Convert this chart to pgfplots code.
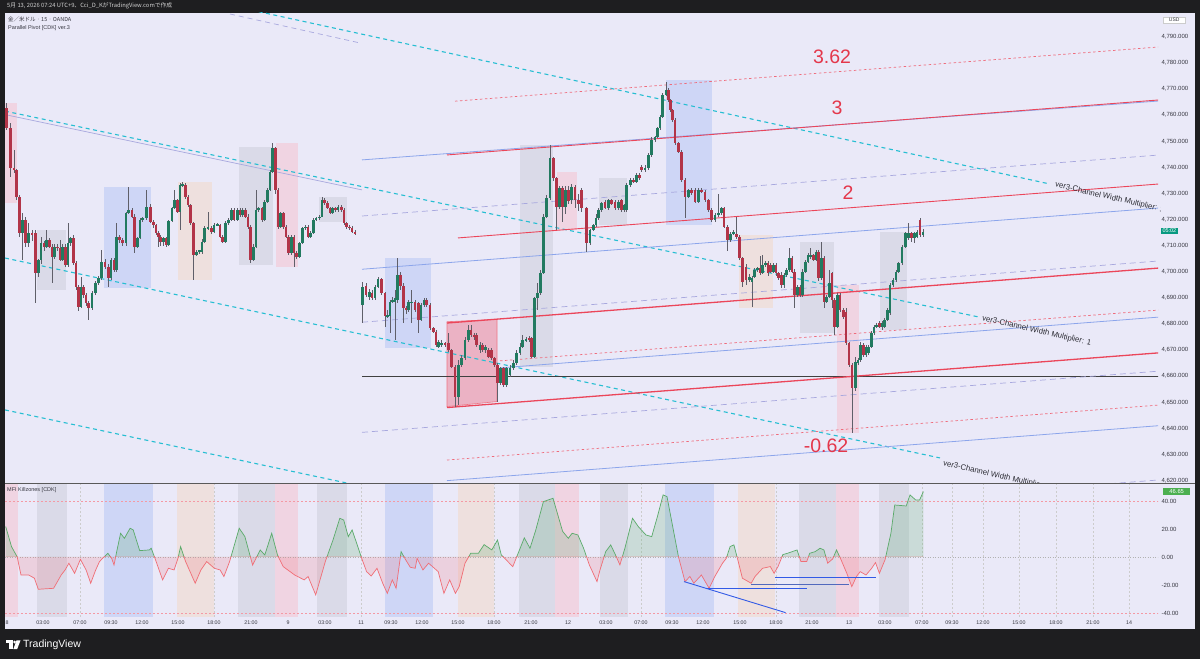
\documentclass[border=0pt]{standalone}
\usepackage{fontspec}
\setmainfont{Liberation Sans}
\newfontfamily\cjk{Noto Sans CJK JP}
\usepackage{pgfplots}
\usepackage{pgfplotstable}
\pgfplotsset{compat=1.18}

\definecolor{frame}{RGB}{30,30,32}
\definecolor{bg}{RGB}{234,233,248}
\definecolor{upc}{RGB}{34,122,96}
\definecolor{dnc}{RGB}{178,52,72}
\definecolor{wick}{RGB}{95,95,105}
\definecolor{cyanl}{RGB}{38,190,210}
\definecolor{lav}{RGB}{168,168,222}
\definecolor{bluel}{RGB}{140,165,235}
\definecolor{redl}{RGB}{235,70,90}
\definecolor{boxgray}{RGB}{218,218,232}
\definecolor{boxblue}{RGB}{206,214,246}
\definecolor{boxpink}{RGB}{240,212,226}
\definecolor{boxorange}{RGB}{238,224,222}
\definecolor{boxred}{RGB}{235,178,196}
\definecolor{mfig}{RGB}{90,170,105}
\definecolor{mfir}{RGB}{240,110,118}
\definecolor{txt}{RGB}{55,55,65}
\definecolor{labred}{RGB}{228,55,75}
\definecolor{teal}{RGB}{8,153,129}
\definecolor{grn}{RGB}{76,175,80}
\definecolor{divb}{RGB}{50,90,230}

\pgfplotstableread{
x o h l c
22.7 4714.8 4722.4 4704.6 4719.9
28.7 4711.0 4718.6 4709.7 4714.8
38.3 4699.5 4705.0 4698.2 4704.6
41.0 4704.6 4713.5 4703.0 4711.0
46.7 4709.7 4716.1 4709.0 4712.2
54.7 4705.8 4710.5 4705.0 4709.7
62.7 4704.6 4710.5 4704.0 4709.7
68.0 4702.7 4718.6 4702.0 4711.0
70.7 4711.0 4713.5 4710.0 4712.9
81.0 4686.7 4698.2 4686.0 4694.3
92.0 4686.0 4692.5 4685.5 4691.8
95.7 4691.8 4696.5 4691.0 4695.6
98.3 4695.6 4698.5 4695.0 4697.5
101.7 4697.5 4708.4 4697.0 4703.9
111.0 4697.5 4705.2 4697.0 4704.6
116.7 4700.7 4718.6 4700.0 4713.5
126.0 4711.0 4723.0 4710.0 4722.4
128.7 4722.4 4732.7 4722.0 4723.7
137.3 4709.7 4713.5 4709.0 4712.9
140.0 4712.9 4720.5 4712.5 4719.9
142.7 4719.9 4721.0 4719.0 4720.5
146.7 4720.5 4731.4 4720.0 4725.0
163.3 4711.6 4713.5 4710.0 4712.9
168.7 4710.3 4720.0 4710.0 4719.3
172.0 4719.3 4725.0 4719.0 4724.4
174.7 4724.4 4731.4 4724.0 4727.6
180.0 4723.1 4734.0 4716.0 4733.3
182.7 4733.3 4734.6 4732.7 4733.6
196.7 4706.5 4708.5 4706.0 4707.8
199.3 4707.8 4708.5 4707.0 4708.2
202.0 4707.8 4712.5 4707.0 4711.6
204.7 4711.6 4717.5 4711.0 4716.7
208.0 4716.7 4723.1 4716.0 4717.0
214.0 4715.4 4718.6 4715.0 4718.0
217.3 4718.0 4718.6 4717.5 4718.3
225.3 4711.6 4719.5 4711.0 4718.6
228.7 4718.6 4720.5 4718.0 4719.9
231.3 4719.9 4724.5 4719.5 4723.7
237.3 4719.9 4724.5 4719.5 4723.7
242.7 4721.8 4724.5 4721.0 4723.7
253.3 4704.6 4710.5 4704.0 4709.7
256.0 4709.7 4731.4 4709.0 4723.7
258.7 4723.7 4725.0 4723.0 4724.4
264.7 4719.9 4727.5 4719.5 4726.9
267.3 4726.9 4732.0 4726.5 4731.4
269.8 4731.4 4739.0 4731.0 4738.4
272.3 4738.4 4749.3 4738.0 4747.4
280.7 4717.3 4723.0 4717.0 4722.4
291.3 4707.1 4714.0 4706.5 4713.5
299.3 4705.8 4711.6 4705.5 4711.0
302.7 4711.0 4717.3 4710.5 4716.7
305.3 4716.7 4718.0 4716.0 4717.3
310.7 4713.5 4715.5 4713.0 4714.8
313.3 4714.8 4720.5 4714.5 4719.9
316.0 4719.9 4721.0 4719.5 4720.5
319.3 4720.5 4721.8 4720.0 4721.2
322.0 4721.2 4728.5 4721.0 4727.6
332.7 4722.4 4725.0 4722.0 4724.4
338.0 4723.7 4725.5 4723.0 4725.0
362.7 4687.3 4696.3 4680.3 4694.4
369.3 4690.5 4693.3 4689.2 4692.4
375.0 4689.9 4695.0 4689.2 4694.4
378.0 4694.4 4698.2 4693.7 4697.2
387.7 4682.9 4685.4 4682.2 4683.5
390.0 4682.9 4689.2 4676.5 4688.6
392.7 4688.6 4690.5 4688.0 4689.2
395.0 4688.6 4693.1 4673.9 4689.9
397.7 4689.2 4705.2 4688.0 4698.8
408.7 4685.4 4689.2 4684.8 4688.6
411.7 4688.0 4693.1 4680.3 4688.6
421.0 4681.6 4688.0 4681.0 4687.3
424.0 4687.3 4689.9 4686.7 4689.2
438.7 4671.4 4673.9 4670.7 4673.3
441.7 4672.0 4673.7 4671.4 4672.9
458.3 4652.2 4666.3 4649.0 4664.3
461.7 4664.3 4668.2 4663.7 4666.9
465.0 4666.9 4675.2 4666.3 4673.9
468.3 4673.9 4679.7 4673.3 4677.7
480.0 4670.1 4673.3 4668.8 4672.0
485.7 4670.1 4672.0 4668.8 4671.4
500.7 4657.3 4663.7 4656.7 4663.1
506.7 4656.7 4663.7 4656.0 4663.1
510.0 4660.5 4664.3 4659.9 4663.1
513.3 4663.1 4666.3 4662.4 4665.0
516.7 4665.0 4670.1 4664.3 4668.8
520.0 4668.8 4672.6 4668.2 4671.4
522.7 4671.4 4675.8 4670.7 4673.9
526.0 4673.7 4675.2 4673.1 4674.2
534.5 4667.5 4690.5 4666.9 4689.9
537.5 4689.9 4695.6 4685.4 4691.8
540.5 4691.8 4700.7 4691.2 4699.5
543.7 4699.5 4722.0 4699.0 4721.1
546.7 4721.1 4729.4 4720.5 4728.2
550.0 4728.2 4748.6 4727.5 4743.5
559.3 4725.0 4733.0 4724.0 4732.0
565.3 4725.0 4733.0 4722.0 4731.5
571.7 4727.5 4733.5 4726.0 4732.6
590.0 4710.9 4716.5 4710.3 4716.0
593.3 4716.0 4718.5 4715.5 4717.9
596.0 4717.9 4722.0 4717.3 4720.5
598.7 4720.5 4724.3 4720.0 4723.7
601.7 4723.7 4726.8 4723.1 4726.2
608.3 4724.3 4728.0 4723.7 4727.5
618.3 4724.3 4727.5 4723.7 4726.9
624.0 4723.7 4726.2 4723.1 4725.6
626.7 4723.7 4734.0 4723.1 4733.3
630.7 4733.3 4736.0 4732.7 4735.2
636.7 4734.6 4737.7 4734.0 4737.1
645.0 4739.0 4741.0 4738.4 4739.7
648.3 4739.7 4745.4 4739.0 4744.8
651.7 4744.8 4751.5 4744.2 4750.5
655.0 4750.5 4752.0 4749.9 4751.8
657.3 4751.8 4755.6 4751.2 4755.0
660.0 4755.0 4760.1 4754.4 4759.5
662.7 4759.5 4768.4 4758.9 4767.8
666.0 4767.8 4772.9 4767.2 4769.7
688.3 4728.8 4731.9 4728.2 4731.4
698.3 4726.9 4732.0 4726.3 4731.4
715.0 4719.9 4722.5 4719.3 4721.8
718.3 4721.8 4730.0 4721.2 4722.4
721.7 4722.4 4724.9 4721.8 4724.3
730.7 4712.2 4715.3 4711.6 4714.7
733.3 4714.7 4716.0 4714.1 4715.4
749.3 4696.9 4699.0 4696.0 4698.2
752.0 4696.2 4698.5 4686.7 4697.5
754.7 4698.2 4701.5 4697.5 4700.7
757.3 4700.7 4702.0 4700.0 4701.4
762.7 4699.4 4706.5 4699.0 4702.6
765.3 4702.6 4704.0 4702.0 4703.3
773.3 4700.1 4703.5 4699.5 4702.6
784.0 4694.9 4699.5 4694.0 4698.8
786.7 4698.8 4701.5 4698.0 4700.7
789.3 4700.7 4709.0 4700.0 4705.2
797.3 4691.1 4695.0 4690.5 4694.3
802.7 4691.1 4701.0 4690.5 4700.1
805.3 4700.1 4704.5 4699.5 4703.9
808.0 4703.9 4707.1 4703.5 4706.5
810.7 4705.8 4709.0 4705.0 4706.5
816.0 4704.6 4708.3 4704.0 4707.7
821.3 4697.5 4711.6 4697.0 4705.2
826.7 4688.6 4691.2 4688.0 4690.5
829.3 4690.5 4700.7 4690.0 4695.6
837.3 4679.0 4692.0 4678.4 4691.2
855.3 4655.4 4667.5 4654.3 4665.6
858.0 4665.0 4667.0 4664.3 4666.3
860.7 4666.3 4673.3 4665.6 4672.0
866.0 4668.2 4672.0 4667.5 4671.4
868.7 4668.8 4672.0 4668.2 4671.4
871.3 4671.4 4677.2 4671.0 4676.5
874.0 4676.5 4679.7 4676.0 4679.0
876.7 4679.0 4680.3 4678.4 4679.7
882.0 4679.0 4681.0 4677.7 4680.3
884.7 4679.0 4682.2 4678.4 4681.6
887.3 4681.6 4686.0 4681.0 4685.4
890.0 4684.1 4695.6 4683.5 4694.9
893.0 4694.9 4697.5 4694.3 4696.9
896.0 4696.9 4700.7 4696.2 4700.1
898.7 4700.1 4703.9 4699.5 4703.3
902.0 4703.3 4710.3 4702.6 4709.7
905.3 4709.7 4715.4 4709.0 4714.8
908.7 4712.9 4718.6 4712.3 4714.8
914.3 4712.9 4715.4 4711.0 4714.8
917.0 4713.5 4716.0 4713.0 4715.4
923.0 4714.1 4716.5 4713.5 4715.4
}\upc

\pgfplotstableread{
x o h l c
6.7 4762.7 4764.6 4754.4 4755.0
10.7 4755.0 4756.9 4736.5 4739.7
14.0 4739.7 4746.7 4737.8 4739.0
16.7 4739.0 4739.5 4727.6 4728.8
19.3 4728.8 4729.5 4713.5 4714.8
25.3 4719.9 4721.2 4709.7 4711.0
32.0 4714.8 4716.0 4712.0 4714.0
35.3 4714.8 4716.0 4688.0 4699.5
44.0 4711.0 4712.0 4708.0 4709.7
49.3 4712.2 4713.0 4709.0 4709.7
52.0 4709.7 4710.5 4695.6 4705.8
57.3 4709.7 4710.5 4708.0 4709.0
60.0 4709.0 4712.2 4704.0 4704.6
65.3 4709.7 4710.5 4702.0 4702.7
73.3 4712.9 4714.0 4702.7 4703.3
76.0 4703.3 4704.0 4693.0 4694.3
78.6 4694.3 4695.0 4685.0 4686.7
83.3 4694.3 4695.0 4690.0 4691.2
86.0 4691.2 4692.0 4687.0 4688.0
88.7 4688.0 4689.0 4681.6 4686.0
105.0 4703.9 4705.0 4701.0 4702.0
108.3 4702.0 4703.0 4694.3 4697.5
114.0 4704.6 4705.5 4700.0 4700.7
119.3 4713.5 4714.0 4711.0 4712.2
122.7 4712.2 4713.0 4710.0 4711.0
132.0 4723.7 4724.5 4720.5 4721.2
134.7 4721.2 4722.0 4707.1 4709.7
150.7 4725.0 4726.0 4718.6 4719.3
153.3 4719.3 4720.0 4717.0 4718.0
155.8 4718.0 4718.5 4714.0 4714.8
158.3 4714.8 4715.5 4709.7 4713.5
160.7 4713.5 4714.0 4710.0 4711.6
166.0 4712.9 4713.5 4709.5 4710.3
177.3 4727.6 4728.0 4722.5 4723.1
185.3 4733.3 4734.0 4728.0 4728.8
188.0 4728.8 4729.5 4725.0 4725.6
190.7 4725.6 4726.0 4718.0 4718.6
193.3 4718.6 4719.0 4696.9 4706.5
211.3 4716.7 4717.5 4714.5 4715.4
220.0 4718.0 4718.5 4713.0 4713.5
222.7 4713.5 4714.0 4711.0 4711.6
234.0 4723.7 4724.5 4719.5 4719.9
240.0 4723.7 4724.5 4721.0 4721.8
245.3 4723.7 4724.5 4720.5 4721.2
248.0 4721.2 4722.0 4716.5 4717.3
250.7 4717.3 4718.0 4703.3 4704.6
262.0 4724.4 4725.0 4719.0 4719.9
275.3 4747.4 4748.0 4730.0 4731.4
278.0 4731.4 4732.0 4716.5 4717.3
283.3 4722.4 4723.0 4716.5 4717.3
286.0 4717.3 4718.0 4713.0 4713.5
288.7 4713.5 4714.0 4706.5 4707.1
294.0 4713.5 4714.0 4702.0 4707.1
296.7 4707.1 4708.0 4705.0 4705.8
308.0 4717.3 4718.0 4713.0 4713.5
324.7 4727.6 4728.5 4725.5 4726.3
327.3 4726.3 4727.0 4724.0 4724.4
330.0 4724.4 4725.0 4722.0 4722.4
335.3 4724.4 4725.0 4723.0 4723.7
341.3 4725.0 4725.5 4723.0 4723.7
344.0 4723.7 4724.5 4718.0 4718.6
346.7 4718.6 4719.0 4716.5 4717.3
349.3 4717.3 4718.0 4716.0 4716.7
352.0 4716.7 4717.5 4714.8 4715.4
355.0 4715.4 4716.0 4714.0 4714.5
366.0 4694.4 4695.6 4690.5 4691.2
372.0 4691.8 4693.1 4689.2 4689.9
381.7 4697.2 4697.5 4691.2 4691.8
385.0 4691.8 4692.4 4679.0 4682.9
400.7 4698.8 4700.1 4693.1 4694.4
403.3 4694.4 4695.6 4680.3 4686.1
406.0 4686.1 4687.0 4684.0 4685.7
415.0 4688.6 4689.2 4684.8 4685.4
418.3 4688.0 4688.6 4676.5 4681.6
426.7 4689.2 4689.9 4686.7 4687.3
430.0 4687.3 4688.0 4677.7 4678.4
433.3 4678.4 4679.0 4676.5 4677.1
436.0 4677.1 4677.7 4671.4 4672.0
445.0 4672.6 4673.1 4671.4 4672.0
448.3 4672.6 4676.5 4669.4 4670.1
451.7 4670.1 4670.3 4663.1 4663.7
455.0 4663.7 4664.3 4648.4 4652.2
471.0 4677.7 4679.7 4675.2 4675.8
474.0 4675.8 4676.5 4673.9 4675.2
476.7 4675.8 4676.5 4671.4 4672.0
482.7 4672.0 4672.6 4669.4 4670.1
488.3 4670.1 4670.7 4666.9 4667.5
491.3 4670.1 4670.7 4666.3 4666.9
494.3 4666.9 4667.5 4663.7 4664.3
497.3 4664.3 4665.0 4650.3 4657.3
503.3 4663.1 4663.7 4656.0 4656.7
529.0 4674.6 4675.4 4673.3 4673.9
531.5 4674.6 4675.2 4666.9 4667.5
553.3 4743.5 4744.0 4735.0 4735.8
556.3 4735.8 4736.5 4716.0 4725.0
562.3 4732.0 4733.0 4719.0 4725.0
568.3 4731.5 4733.0 4726.0 4727.0
575.0 4732.6 4733.3 4724.5 4727.5
578.3 4727.5 4730.0 4723.5 4726.2
581.7 4731.4 4732.0 4722.8 4724.3
586.7 4724.3 4725.0 4707.7 4710.9
605.0 4726.9 4727.5 4724.0 4724.3
611.7 4727.5 4728.0 4725.6 4726.2
615.0 4726.9 4727.5 4723.7 4724.3
621.7 4727.5 4728.0 4723.1 4723.7
633.7 4735.2 4735.8 4734.0 4734.6
639.3 4737.1 4737.7 4735.2 4735.8
641.7 4740.3 4741.0 4738.4 4739.0
668.3 4769.7 4770.3 4765.2 4765.8
670.7 4765.8 4766.4 4761.4 4762.0
672.7 4762.0 4762.6 4757.6 4758.2
675.0 4758.2 4758.8 4748.6 4749.2
678.3 4749.2 4749.8 4745.4 4746.0
681.7 4746.0 4746.6 4734.6 4735.2
685.0 4735.2 4735.8 4720.5 4728.8
691.7 4731.4 4732.0 4729.6 4730.1
695.0 4731.4 4732.0 4726.3 4726.9
701.7 4731.4 4732.0 4730.2 4730.7
705.0 4730.7 4731.3 4726.9 4727.5
708.3 4727.5 4728.1 4723.1 4723.7
711.7 4723.7 4724.3 4719.3 4719.9
724.0 4724.3 4724.9 4716.7 4717.3
727.3 4717.3 4717.9 4708.0 4712.2
736.7 4714.7 4721.1 4712.7 4713.3
739.3 4713.3 4714.1 4704.6 4705.2
742.7 4705.2 4705.8 4694.3 4696.2
746.0 4702.0 4703.0 4695.0 4696.9
760.0 4701.4 4706.0 4698.8 4699.4
768.0 4703.3 4704.0 4698.5 4699.4
770.7 4702.6 4703.5 4699.5 4700.1
776.0 4702.6 4703.5 4698.5 4699.4
778.7 4699.4 4700.0 4697.0 4697.5
781.3 4698.8 4700.0 4694.0 4694.9
792.0 4705.2 4706.0 4699.5 4700.1
794.7 4700.1 4701.0 4686.0 4691.1
800.0 4694.3 4695.0 4690.5 4691.1
813.3 4706.5 4707.0 4704.0 4704.6
818.7 4707.7 4708.3 4696.5 4697.5
824.0 4705.2 4706.0 4686.0 4688.6
832.0 4699.5 4700.0 4686.0 4689.2
834.7 4689.2 4690.0 4675.8 4679.0
840.0 4691.2 4692.0 4684.8 4685.4
843.3 4685.4 4686.0 4682.0 4682.8
846.0 4684.8 4686.0 4672.0 4672.6
849.0 4672.6 4673.3 4663.7 4664.3
852.0 4664.3 4665.0 4638.1 4655.4
863.3 4672.0 4672.6 4667.5 4668.2
879.3 4680.3 4681.0 4678.4 4679.0
911.7 4714.8 4715.4 4711.6 4712.9
920.0 4719.9 4720.5 4713.5 4714.1
}\dnc

\pgfplotstableread{
x v
5.7 21.7
11.5 7.4
17.2 0.0
21.0 -12.9
28.7 -12.9
34.4 -15.2
38.3 -23.1
53.6 -22.4
61.2 -12.9
65.1 -9.3
68.9 -4.5
74.6 -11.7
80.4 -1.7
86.1 -9.3
90.7 -18.8
95.7 -9.3
99.5 -3.3
102.6 -1.0
107.9 2.6
111.7 -1.0
114.0 -5.8
116.7 3.8
120.6 16.9
124.4 13.3
130.1 20.5
133.2 19.3
139.7 4.5
149.3 5.0
151.2 6.2
155.0 -1.0
162.6 -16.4
168.4 -8.1
174.1 -9.3
178.0 -1.0
180.6 7.4
185.6 -3.3
195.2 -18.8
200.9 -9.3
206.7 -3.3
214.3 -8.1
220.1 -9.3
223.9 -14.0
229.6 -3.3
239.2 20.5
244.9 14.5
252.6 -5.8
260.2 5.0
264.8 1.4
271.7 16.9
277.5 1.4
283.2 -6.9
294.7 -12.9
304.2 -16.4
308.1 -14.0
315.7 -27.1
325.3 -3.3
333.0 12.1
339.8 27.6
343.7 26.4
348.3 14.5
352.1 19.3
357.8 7.4
361.7 -1.0
366.6 -10.5
371.2 -13.6
377.0 -8.1
382.7 -18.8
387.3 -26.0
392.3 -16.4
396.1 -22.4
401.1 3.8
405.7 -2.1
410.3 -7.4
415.2 -8.1
417.1 -1.0
422.9 -9.3
428.6 -4.5
432.5 -6.9
438.2 -10.5
443.9 -26.0
449.7 -16.4
455.4 -26.0
459.2 -21.2
465.0 -4.5
470.7 2.6
478.4 2.6
484.1 8.8
491.8 5.0
497.5 12.1
501.3 1.4
512.8 -6.9
524.3 13.6
530.0 6.2
535.8 19.3
543.4 39.5
553.0 41.9
562.6 18.3
568.3 13.3
572.1 16.9
577.9 15.7
583.6 6.2
589.4 -5.8
597.0 -17.6
600.0 -9.3
605.7 3.8
610.7 8.6
615.3 1.7
619.9 -5.7
624.9 6.2
632.5 27.6
638.3 21.7
645.9 15.7
651.7 14.5
657.4 28.8
663.1 44.3
667.0 43.1
672.7 21.7
678.5 0.0
685.0 -17.6
689.9 -14.0
693.8 -18.8
701.4 -12.9
709.1 -22.4
714.8 -14.0
722.5 -4.5
726.3 -1.0
730.1 7.4
733.9 8.6
737.8 -2.1
742.4 -15.2
751.2 -18.8
755.0 -14.0
762.6 -8.1
770.3 -6.9
774.1 -11.7
778.0 -6.9
782.9 1.7
787.5 2.6
797.1 5.0
800.9 -3.3
806.7 -3.3
809.7 2.6
815.1 3.8
820.1 6.2
823.9 5.0
827.7 -4.5
832.7 -1.4
836.5 5.0
841.1 -2.1
846.8 -11.7
851.8 -21.2
856.4 -14.0
860.2 -10.5
866.0 -12.9
871.7 -8.1
875.5 -4.0
879.4 -11.7
885.1 -1.9
890.9 16.9
894.7 37.1
906.2 36.4
910.0 44.3
915.7 40.7
919.6 40.7
923.4 46.7
}\mfi

\pgfplotsset{
  pane/.style={scale only axis, axis line style={draw=none}, major tick length=0pt,
    xmin=5, xmax=1158, clip=true,
    tick label style={font=\fontsize{6}{7}\selectfont, text=txt},
    /pgf/number format/assume math mode=true},
  sbox/.style={draw=none, fill=#1, forget plot},
  wickst/.style={draw=none, mark=none, forget plot, error bars/.cd, y dir=both, y explicit, error mark=none,
    error bar style={draw=wick, line width=0.6pt}},
  bodyst/.style={draw=none, mark=none, forget plot, error bars/.cd, y dir=both, y explicit, error mark=none,
    error bar style={draw=#1, line width=2.6pt}},
}

\begin{document}
\begin{tikzpicture}[x=1pt,y=1pt]
\useasboundingbox (0,0) rectangle (1200,659);
\fill[frame] (0,0) rectangle (1200,659);
\fill[bg] (5,30) rectangle (1195,646.3);

% ---------------- price pane ----------------
\begin{axis}[pane, at={(5pt,176pt)}, anchor=south west, width=1153pt, height=470.3pt,
  ymin=4619.1, ymax=4799.3, ytick={4620,4630,...,4790}, yticklabel pos=right,
  yticklabel style={/pgf/number format/.cd, fixed, fixed zerofill, precision=3, 1000 sep={,}},
  xtick=\empty]
% session boxes
\addplot[sbox=boxpink] coordinates {(5,4764.7) (17,4764.7) (17,4726.4) (5,4726.4)};
\addplot[sbox=boxgray] coordinates {(37,4716.05) (66,4716.05) (66,4693.07) (37,4693.07)};
\addplot[sbox=boxblue] coordinates {(104,4732.5) (151,4732.5) (151,4693.8) (104,4693.8)};
\addplot[sbox=boxorange] coordinates {(178,4734.4) (212,4734.4) (212,4696.9) (178,4696.9)};
\addplot[sbox=boxgray] coordinates {(239,4747.9) (273,4747.9) (273,4702.6) (239,4702.6)};
\addplot[sbox=boxpink] coordinates {(276,4749.4) (298,4749.4) (298,4701.9) (276,4701.9)};
\addplot[sbox=boxgray] coordinates {(319,4728.7) (347,4728.7) (347,4719.1) (319,4719.1)};
\addplot[sbox=boxblue] coordinates {(385,4705.3) (431,4705.3) (431,4670.8) (385,4670.8)};
\addplot[fill=boxred, draw=redl!75, line width=0.6pt, forget plot] coordinates {(447,4680.9) (497,4681.8) (497,4650.3) (447,4648.4) (447,4680.9)};
\addplot[sbox=boxgray] coordinates {(520,4748.6) (553,4748.6) (553,4663.6) (520,4663.6)};
\addplot[sbox=boxpink] coordinates {(557,4738.3) (577,4738.3) (577,4716.1) (557,4716.1)};
\addplot[sbox=boxgray] coordinates {(599,4736.0) (627,4736.0) (627,4718.0) (599,4718.0)};
\addplot[sbox=boxblue] coordinates {(666,4773.5) (712,4773.5) (712,4718.0) (666,4718.0)};
\addplot[sbox=boxorange] coordinates {(739,4714.1) (773,4714.1) (773,4686.2) (739,4686.2)};
\addplot[sbox=boxgray] coordinates {(800,4711.5) (834,4711.5) (834,4676.6) (800,4676.6)};
\addplot[sbox=boxpink] coordinates {(837,4695.0) (859,4695.0) (859,4638.3) (837,4638.3)};
\addplot[sbox=boxgray] coordinates {(880,4715.1) (907,4715.1) (907,4677.7) (880,4677.7)};

% descending channel lines
\addplot[lav, line width=0.7pt, dash pattern=on 5pt off 4pt, forget plot] coordinates {(230,4798.8) (360,4787.7)};
\addplot[lav, line width=0.7pt, forget plot] coordinates {(7,4760.1) (362,4731.4)};
\addplot[cyanl, line width=1.1pt, dash pattern=on 4pt off 3.5pt, forget plot] coordinates {(200,4804.6) (1047,4733.9)};
\addplot[cyanl, line width=1.1pt, dash pattern=on 4pt off 3.5pt, forget plot] coordinates {(5,4761.6) (980,4682.6)};
\addplot[cyanl, line width=1.1pt, dash pattern=on 4pt off 3.5pt, forget plot] coordinates {(5,4705.3) (940,4628.7)};
\addplot[cyanl, line width=1.1pt, dash pattern=on 4pt off 3.5pt, forget plot] coordinates {(5,4647.1) (360,4618.0)};

% rising parallel pivot lines
\addplot[redl!80, line width=0.7pt, dash pattern=on 2.5pt off 2.5pt, forget plot] coordinates {(455,4765.4) (1160,4786.2)};
\addplot[bluel, line width=0.8pt, forget plot] coordinates {(362,4742.9) (1160,4765.5)};
\addplot[redl, line width=0.9pt, forget plot] coordinates {(447,4744.8) (1160,4765.9)};
\addplot[lav, line width=0.7pt, dash pattern=on 6pt off 4pt, forget plot] coordinates {(362,4721.4) (1160,4744.8)};
\addplot[redl, line width=0.9pt, forget plot] coordinates {(458,4713.0) (1160,4733.7)};
\addplot[bluel, line width=0.8pt, forget plot] coordinates {(362,4701.0) (1160,4724.5)};
\addplot[lav, line width=0.7pt, dash pattern=on 6pt off 4pt, forget plot] coordinates {(362,4680.7) (1160,4704.2)};
\addplot[redl, line width=1.3pt, forget plot] coordinates {(447,4680.4) (1160,4701.5)};
\addplot[redl!80, line width=0.7pt, dash pattern=on 2.5pt off 2.5pt, forget plot] coordinates {(500,4665.9) (1160,4685.4)};
\addplot[bluel, line width=0.8pt, forget plot] coordinates {(500,4663.2) (1160,4682.7)};
\addplot[black!75, line width=0.8pt, forget plot] coordinates {(362,4660.1) (1160,4660.1)};
\addplot[redl, line width=1.3pt, forget plot] coordinates {(447,4648.0) (1160,4669.0)};
\addplot[lav, line width=0.7pt, dash pattern=on 6pt off 4pt, forget plot] coordinates {(362,4638.5) (1160,4662.0)};
\addplot[redl!80, line width=0.7pt, dash pattern=on 2.5pt off 2.5pt, forget plot] coordinates {(447,4627.9) (1160,4649.0)};
\addplot[bluel, line width=0.8pt, forget plot] coordinates {(447,4620.0) (1160,4641.1)};
\addplot[lav, line width=0.7pt, dash pattern=on 6pt off 4pt, forget plot] coordinates {(1000,4615.6) (1160,4620.3)};

% candles
\addplot[wickst] table[x=x, y expr={(\thisrow{h}+\thisrow{l})/2}, y error expr={(\thisrow{h}-\thisrow{l})/2}] {\upc};
\addplot[wickst] table[x=x, y expr={(\thisrow{h}+\thisrow{l})/2}, y error expr={(\thisrow{h}-\thisrow{l})/2}] {\dnc};
\addplot[bodyst=upc] table[x=x, y expr={(\thisrow{o}+\thisrow{c})/2}, y error expr={max(abs(\thisrow{c}-\thisrow{o})/2,0.25)}] {\upc};
\addplot[bodyst=dnc] table[x=x, y expr={(\thisrow{o}+\thisrow{c})/2}, y error expr={max(abs(\thisrow{c}-\thisrow{o})/2,0.25)}] {\dnc};

% level labels
\node[text=labred, font=\fontsize{19.5}{20}\selectfont] at (axis cs:832,4782.3) {3.62};
\node[text=labred, font=\fontsize{19.5}{20}\selectfont] at (axis cs:837,4762.8) {3};
\node[text=labred, font=\fontsize{19.5}{20}\selectfont] at (axis cs:848,4730.2) {2};
\node[text=labred, font=\fontsize{19.5}{20}\selectfont] at (axis cs:826,4633.3) {-0.62};
\coordinate (t1) at (axis cs:1055,4733.3);
\coordinate (t2) at (axis cs:982,4682.2);
\coordinate (t3) at (axis cs:943,4626.7);
\end{axis}

\begin{scope}
\clip (5,176) rectangle (1160,646.3);
\node[anchor=west, rotate=-13, inner sep=0pt, text=txt!80!black, font=\fontsize{7.8}{9}\selectfont] at (t1) {ver3-Channel Width Multiplier: 1};
\node[anchor=west, rotate=-13, inner sep=0pt, text=txt!80!black, font=\fontsize{7.8}{9}\selectfont] at (t2) {ver3-Channel Width Multiplier: 1};
\node[anchor=west, rotate=-13, inner sep=0pt, text=txt!80!black, font=\fontsize{7.8}{9}\selectfont] at (t3) {ver3-Channel Width Multiplier: 1};
\end{scope}

% ---------------- indicator pane ----------------
\begin{axis}[pane, at={(5pt,42pt)}, anchor=south west, width=1153pt, height=133pt,
  ymin=-42.9, ymax=52.1, ytick={-40,-20,0,20,40}, yticklabel pos=right,
  yticklabel style={/pgf/number format/.cd, fixed, fixed zerofill, precision=2},
  xtick={7,43,80,111,142,178,214,251,288,325,361,391,422,458,494,531,568,606,641,672,703,740,776,812,849,885,922,952,983,1019,1056,1093,1129},
  xticklabels={8,03:00,07:00,09:30,12:00,15:00,18:00,21:00,9,03:00,11,09:30,12:00,15:00,18:00,21:00,12,03:00,07:00,09:30,12:00,15:00,18:00,21:00,13,03:00,07:00,09:30,12:00,15:00,18:00,21:00,14},
  x tick label style={font=\fontsize{5.3}{6}\selectfont},
  xmajorgrids, grid style={dash pattern=on 2pt off 2pt, color=gray!40, line width=0.4pt}]
\addplot[sbox=boxpink] coordinates {(5,-42.9) (18,-42.9) (18,52.1) (5,52.1)};
\addplot[sbox=boxgray] coordinates {(37,-42.9) (67,-42.9) (67,52.1) (37,52.1)};
\addplot[sbox=boxblue] coordinates {(104,-42.9) (153,-42.9) (153,52.1) (104,52.1)};
\addplot[sbox=boxorange] coordinates {(177,-42.9) (214,-42.9) (214,52.1) (177,52.1)};
\addplot[sbox=boxgray] coordinates {(238,-42.9) (275,-42.9) (275,52.1) (238,52.1)};
\addplot[sbox=boxpink] coordinates {(275,-42.9) (298,-42.9) (298,52.1) (275,52.1)};
\addplot[sbox=boxgray] coordinates {(317,-42.9) (347,-42.9) (347,52.1) (317,52.1)};
\addplot[sbox=boxblue] coordinates {(385,-42.9) (433,-42.9) (433,52.1) (385,52.1)};
\addplot[sbox=boxorange] coordinates {(458,-42.9) (494,-42.9) (494,52.1) (458,52.1)};
\addplot[sbox=boxgray] coordinates {(519,-42.9) (555,-42.9) (555,52.1) (519,52.1)};
\addplot[sbox=boxpink] coordinates {(555,-42.9) (579,-42.9) (579,52.1) (555,52.1)};
\addplot[sbox=boxgray] coordinates {(600,-42.9) (628,-42.9) (628,52.1) (600,52.1)};
\addplot[sbox=boxblue] coordinates {(665,-42.9) (714,-42.9) (714,52.1) (665,52.1)};
\addplot[sbox=boxorange] coordinates {(738,-42.9) (775,-42.9) (775,52.1) (738,52.1)};
\addplot[sbox=boxgray] coordinates {(799,-42.9) (836,-42.9) (836,52.1) (799,52.1)};
\addplot[sbox=boxpink] coordinates {(836,-42.9) (859,-42.9) (859,52.1) (836,52.1)};
\addplot[sbox=boxgray] coordinates {(879,-42.9) (909,-42.9) (909,52.1) (879,52.1)};

\addplot[redl!55, line width=0.5pt, dash pattern=on 2pt off 2pt, forget plot] coordinates {(5,40) (1160,40)};
\addplot[redl!55, line width=0.5pt, dash pattern=on 2pt off 2pt, forget plot] coordinates {(5,-40) (1160,-40)};
\addplot[gray!60, line width=0.5pt, dash pattern=on 1pt off 1.5pt, forget plot] coordinates {(5,0) (1160,0)};

\begin{scope}
\clip (axis cs:5,0) rectangle (axis cs:1158,52.1);
\addplot[draw=none, fill=mfig, fill opacity=0.22, forget plot] table[x=x, y=v] {\mfi} \closedcycle;
\addplot[mfig, line width=0.7pt, forget plot] table[x=x, y=v] {\mfi};
\end{scope}
\begin{scope}
\clip (axis cs:5,-42.9) rectangle (axis cs:1158,0);
\addplot[draw=none, fill=mfir, fill opacity=0.2, forget plot] table[x=x, y=v] {\mfi} \closedcycle;
\addplot[mfir, line width=0.7pt, forget plot] table[x=x, y=v] {\mfi};
\end{scope}

\addplot[divb, line width=0.9pt, forget plot] coordinates {(684,-17.6) (785.6,-39.8)};
\addplot[divb, line width=0.9pt, forget plot] coordinates {(707,-22.4) (807,-22.4)};
\addplot[divb!60!gray, line width=0.9pt, forget plot] coordinates {(751,-19.3) (849,-19.3)};
\addplot[divb, line width=0.9pt, forget plot] coordinates {(775,-14.5) (876,-14.5)};
\end{axis}

% separator
\draw[gray!70!black, line width=1pt] (5,175.5) -- (1195,175.5);

% texts and badges
\node[anchor=west, text=white!82!black, font=\cjk\fontsize{5.8}{7}\selectfont, inner sep=0pt] at (7,653) {5月 13, 2026 07:24 UTC+9、Cci\_D\_KがTradingView.comで作成};
\node[anchor=west, text=txt, font=\cjk\fontsize{5.5}{7}\selectfont, inner sep=0pt] at (8,639.5) {金／米ドル · 15 · OANDA};
\node[anchor=west, text=txt, font=\fontsize{5.5}{7}\selectfont, inner sep=0pt] at (8,631) {Parallel Pivot [CDK] ver.3};
\node[anchor=west, text=txt, font=\fontsize{5.5}{7}\selectfont, inner sep=0pt] at (7,168.5) {MFI Killzones [CDK]};
\node[fill=white, draw=gray!40, inner sep=1.2pt, text=txt, font=\fontsize{5}{6}\selectfont, minimum width=22pt, anchor=west] at (1163,639) {USD};
\node[fill=teal, inner sep=1.3pt, text=white, font=\fontsize{5.5}{6}\selectfont, anchor=west] at (1161,428) {05:02};
\node[fill=grn, inner sep=1.5pt, text=white, font=\fontsize{5.8}{6.5}\selectfont, anchor=west, minimum width=27pt] at (1163,167.3) {46.65};

% TradingView logo
\fill[white] (6,16) rectangle (12.6,18.6);
\fill[white] (9.4,10) rectangle (12.6,18.6);
\fill[white] (14.6,16.9) circle (1.5);
\fill[white] (16.5,18.6) -- (20.5,18.6) -- (17.2,10) -- (13.4,10) -- cycle;
\node[anchor=west, text=white, font=\fontsize{10.5}{12}\selectfont, inner sep=0pt] at (23,14.3) {TradingView};
\end{tikzpicture}
\end{document}
